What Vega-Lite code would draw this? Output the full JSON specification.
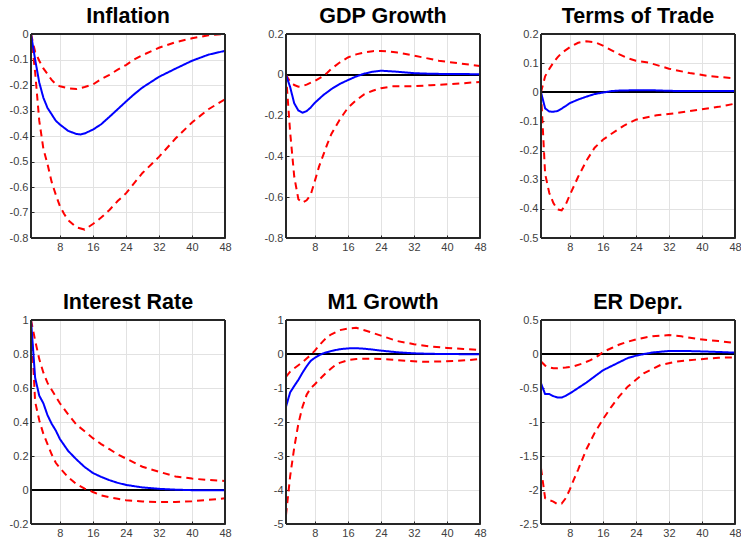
{
  "$schema": "https://vega.github.io/schema/vega-lite/v6.json",
  "padding": {"left": 8, "top": 5, "right": 2, "bottom": 2},
  "background": "white",
  "datasets": {
    "d": [
      {"p":"Inflation","s":"hi","h":1,"v":0},{"p":"Inflation","s":"hi","h":2,"v":-0.07},{"p":"Inflation","s":"hi","h":3,"v":-0.105},{"p":"Inflation","s":"hi","h":4,"v":-0.135},{"p":"Inflation","s":"hi","h":5,"v":-0.157},{"p":"Inflation","s":"hi","h":6,"v":-0.18},{"p":"Inflation","s":"hi","h":7,"v":-0.197},{"p":"Inflation","s":"hi","h":8,"v":-0.205},{"p":"Inflation","s":"hi","h":10,"v":-0.213},{"p":"Inflation","s":"hi","h":12,"v":-0.216},{"p":"Inflation","s":"hi","h":14,"v":-0.208},{"p":"Inflation","s":"hi","h":16,"v":-0.198},{"p":"Inflation","s":"hi","h":18,"v":-0.177},{"p":"Inflation","s":"hi","h":20,"v":-0.16},{"p":"Inflation","s":"hi","h":22,"v":-0.14},{"p":"Inflation","s":"hi","h":24,"v":-0.122},{"p":"Inflation","s":"hi","h":26,"v":-0.1},{"p":"Inflation","s":"hi","h":28,"v":-0.083},{"p":"Inflation","s":"hi","h":32,"v":-0.054},{"p":"Inflation","s":"hi","h":36,"v":-0.032},{"p":"Inflation","s":"hi","h":40,"v":-0.017},{"p":"Inflation","s":"hi","h":44,"v":-0.005},{"p":"Inflation","s":"hi","h":48,"v":0},
      {"p":"Inflation","s":"lo","h":1,"v":0},{"p":"Inflation","s":"lo","h":2,"v":-0.15},{"p":"Inflation","s":"lo","h":3,"v":-0.34},{"p":"Inflation","s":"lo","h":4,"v":-0.45},{"p":"Inflation","s":"lo","h":5,"v":-0.51},{"p":"Inflation","s":"lo","h":6,"v":-0.58},{"p":"Inflation","s":"lo","h":7,"v":-0.63},{"p":"Inflation","s":"lo","h":8,"v":-0.675},{"p":"Inflation","s":"lo","h":9,"v":-0.705},{"p":"Inflation","s":"lo","h":10,"v":-0.73},{"p":"Inflation","s":"lo","h":12,"v":-0.758},{"p":"Inflation","s":"lo","h":14,"v":-0.767},{"p":"Inflation","s":"lo","h":16,"v":-0.745},{"p":"Inflation","s":"lo","h":18,"v":-0.72},{"p":"Inflation","s":"lo","h":20,"v":-0.69},{"p":"Inflation","s":"lo","h":22,"v":-0.655},{"p":"Inflation","s":"lo","h":24,"v":-0.625},{"p":"Inflation","s":"lo","h":26,"v":-0.585},{"p":"Inflation","s":"lo","h":28,"v":-0.545},{"p":"Inflation","s":"lo","h":32,"v":-0.482},{"p":"Inflation","s":"lo","h":36,"v":-0.41},{"p":"Inflation","s":"lo","h":40,"v":-0.347},{"p":"Inflation","s":"lo","h":44,"v":-0.295},{"p":"Inflation","s":"lo","h":48,"v":-0.256},
      {"p":"Inflation","s":"med","h":1,"v":0},{"p":"Inflation","s":"med","h":2,"v":-0.1},{"p":"Inflation","s":"med","h":3,"v":-0.19},{"p":"Inflation","s":"med","h":4,"v":-0.25},{"p":"Inflation","s":"med","h":5,"v":-0.29},{"p":"Inflation","s":"med","h":6,"v":-0.315},{"p":"Inflation","s":"med","h":7,"v":-0.34},{"p":"Inflation","s":"med","h":8,"v":-0.355},{"p":"Inflation","s":"med","h":10,"v":-0.38},{"p":"Inflation","s":"med","h":12,"v":-0.392},{"p":"Inflation","s":"med","h":13,"v":-0.394},{"p":"Inflation","s":"med","h":14,"v":-0.39},{"p":"Inflation","s":"med","h":16,"v":-0.375},{"p":"Inflation","s":"med","h":18,"v":-0.354},{"p":"Inflation","s":"med","h":20,"v":-0.325},{"p":"Inflation","s":"med","h":22,"v":-0.295},{"p":"Inflation","s":"med","h":24,"v":-0.265},{"p":"Inflation","s":"med","h":26,"v":-0.236},{"p":"Inflation","s":"med","h":28,"v":-0.21},{"p":"Inflation","s":"med","h":32,"v":-0.168},{"p":"Inflation","s":"med","h":36,"v":-0.136},{"p":"Inflation","s":"med","h":40,"v":-0.105},{"p":"Inflation","s":"med","h":44,"v":-0.081},{"p":"Inflation","s":"med","h":48,"v":-0.066},

      {"p":"GDP Growth","s":"hi","h":1,"v":0},{"p":"GDP Growth","s":"hi","h":2,"v":-0.035},{"p":"GDP Growth","s":"hi","h":3,"v":-0.05},{"p":"GDP Growth","s":"hi","h":4,"v":-0.058},{"p":"GDP Growth","s":"hi","h":5,"v":-0.055},{"p":"GDP Growth","s":"hi","h":6,"v":-0.048},{"p":"GDP Growth","s":"hi","h":8,"v":-0.03},{"p":"GDP Growth","s":"hi","h":10,"v":-0.006},{"p":"GDP Growth","s":"hi","h":11,"v":0.01},{"p":"GDP Growth","s":"hi","h":12,"v":0.03},{"p":"GDP Growth","s":"hi","h":14,"v":0.06},{"p":"GDP Growth","s":"hi","h":16,"v":0.085},{"p":"GDP Growth","s":"hi","h":18,"v":0.1},{"p":"GDP Growth","s":"hi","h":20,"v":0.11},{"p":"GDP Growth","s":"hi","h":22,"v":0.116},{"p":"GDP Growth","s":"hi","h":24,"v":0.117},{"p":"GDP Growth","s":"hi","h":26,"v":0.114},{"p":"GDP Growth","s":"hi","h":28,"v":0.109},{"p":"GDP Growth","s":"hi","h":30,"v":0.102},{"p":"GDP Growth","s":"hi","h":34,"v":0.086},{"p":"GDP Growth","s":"hi","h":38,"v":0.069},{"p":"GDP Growth","s":"hi","h":43,"v":0.056},{"p":"GDP Growth","s":"hi","h":48,"v":0.043},
      {"p":"GDP Growth","s":"lo","h":1,"v":0},{"p":"GDP Growth","s":"lo","h":2,"v":-0.28},{"p":"GDP Growth","s":"lo","h":3,"v":-0.5},{"p":"GDP Growth","s":"lo","h":4,"v":-0.61},{"p":"GDP Growth","s":"lo","h":5,"v":-0.627},{"p":"GDP Growth","s":"lo","h":6,"v":-0.615},{"p":"GDP Growth","s":"lo","h":7,"v":-0.587},{"p":"GDP Growth","s":"lo","h":8,"v":-0.52},{"p":"GDP Growth","s":"lo","h":9,"v":-0.45},{"p":"GDP Growth","s":"lo","h":10,"v":-0.395},{"p":"GDP Growth","s":"lo","h":11,"v":-0.34},{"p":"GDP Growth","s":"lo","h":12,"v":-0.29},{"p":"GDP Growth","s":"lo","h":14,"v":-0.22},{"p":"GDP Growth","s":"lo","h":16,"v":-0.162},{"p":"GDP Growth","s":"lo","h":18,"v":-0.125},{"p":"GDP Growth","s":"lo","h":20,"v":-0.095},{"p":"GDP Growth","s":"lo","h":22,"v":-0.078},{"p":"GDP Growth","s":"lo","h":24,"v":-0.066},{"p":"GDP Growth","s":"lo","h":27,"v":-0.056},{"p":"GDP Growth","s":"lo","h":32,"v":-0.056},{"p":"GDP Growth","s":"lo","h":36,"v":-0.051},{"p":"GDP Growth","s":"lo","h":41,"v":-0.046},{"p":"GDP Growth","s":"lo","h":48,"v":-0.035},
      {"p":"GDP Growth","s":"med","h":1,"v":0},{"p":"GDP Growth","s":"med","h":2,"v":-0.06},{"p":"GDP Growth","s":"med","h":3,"v":-0.14},{"p":"GDP Growth","s":"med","h":4,"v":-0.175},{"p":"GDP Growth","s":"med","h":5,"v":-0.186},{"p":"GDP Growth","s":"med","h":6,"v":-0.178},{"p":"GDP Growth","s":"med","h":7,"v":-0.16},{"p":"GDP Growth","s":"med","h":8,"v":-0.137},{"p":"GDP Growth","s":"med","h":10,"v":-0.1},{"p":"GDP Growth","s":"med","h":12,"v":-0.07},{"p":"GDP Growth","s":"med","h":14,"v":-0.045},{"p":"GDP Growth","s":"med","h":16,"v":-0.026},{"p":"GDP Growth","s":"med","h":18,"v":-0.008},{"p":"GDP Growth","s":"med","h":20,"v":0.006},{"p":"GDP Growth","s":"med","h":22,"v":0.015},{"p":"GDP Growth","s":"med","h":24,"v":0.02},{"p":"GDP Growth","s":"med","h":28,"v":0.015},{"p":"GDP Growth","s":"med","h":32,"v":0.008},{"p":"GDP Growth","s":"med","h":36,"v":0.005},{"p":"GDP Growth","s":"med","h":40,"v":0.004},{"p":"GDP Growth","s":"med","h":48,"v":0.003},

      {"p":"Terms of Trade","s":"hi","h":1,"v":0},{"p":"Terms of Trade","s":"hi","h":2,"v":0.055},{"p":"Terms of Trade","s":"hi","h":3,"v":0.08},{"p":"Terms of Trade","s":"hi","h":4,"v":0.102},{"p":"Terms of Trade","s":"hi","h":5,"v":0.12},{"p":"Terms of Trade","s":"hi","h":6,"v":0.135},{"p":"Terms of Trade","s":"hi","h":8,"v":0.155},{"p":"Terms of Trade","s":"hi","h":10,"v":0.17},{"p":"Terms of Trade","s":"hi","h":12,"v":0.175},{"p":"Terms of Trade","s":"hi","h":14,"v":0.172},{"p":"Terms of Trade","s":"hi","h":16,"v":0.16},{"p":"Terms of Trade","s":"hi","h":18,"v":0.145},{"p":"Terms of Trade","s":"hi","h":20,"v":0.13},{"p":"Terms of Trade","s":"hi","h":22,"v":0.117},{"p":"Terms of Trade","s":"hi","h":24,"v":0.108},{"p":"Terms of Trade","s":"hi","h":27,"v":0.102},{"p":"Terms of Trade","s":"hi","h":32,"v":0.081},{"p":"Terms of Trade","s":"hi","h":37,"v":0.066},{"p":"Terms of Trade","s":"hi","h":42,"v":0.055},{"p":"Terms of Trade","s":"hi","h":48,"v":0.048},
      {"p":"Terms of Trade","s":"lo","h":1,"v":0},{"p":"Terms of Trade","s":"lo","h":2,"v":-0.28},{"p":"Terms of Trade","s":"lo","h":3,"v":-0.345},{"p":"Terms of Trade","s":"lo","h":4,"v":-0.38},{"p":"Terms of Trade","s":"lo","h":5,"v":-0.402},{"p":"Terms of Trade","s":"lo","h":6,"v":-0.405},{"p":"Terms of Trade","s":"lo","h":7,"v":-0.385},{"p":"Terms of Trade","s":"lo","h":8,"v":-0.352},{"p":"Terms of Trade","s":"lo","h":10,"v":-0.29},{"p":"Terms of Trade","s":"lo","h":12,"v":-0.235},{"p":"Terms of Trade","s":"lo","h":14,"v":-0.19},{"p":"Terms of Trade","s":"lo","h":16,"v":-0.163},{"p":"Terms of Trade","s":"lo","h":18,"v":-0.143},{"p":"Terms of Trade","s":"lo","h":21,"v":-0.115},{"p":"Terms of Trade","s":"lo","h":24,"v":-0.094},{"p":"Terms of Trade","s":"lo","h":29,"v":-0.079},{"p":"Terms of Trade","s":"lo","h":34,"v":-0.071},{"p":"Terms of Trade","s":"lo","h":39,"v":-0.06},{"p":"Terms of Trade","s":"lo","h":44,"v":-0.05},{"p":"Terms of Trade","s":"lo","h":48,"v":-0.039},
      {"p":"Terms of Trade","s":"med","h":1,"v":0},{"p":"Terms of Trade","s":"med","h":2,"v":-0.055},{"p":"Terms of Trade","s":"med","h":3,"v":-0.066},{"p":"Terms of Trade","s":"med","h":4,"v":-0.067},{"p":"Terms of Trade","s":"med","h":5,"v":-0.064},{"p":"Terms of Trade","s":"med","h":6,"v":-0.056},{"p":"Terms of Trade","s":"med","h":7,"v":-0.047},{"p":"Terms of Trade","s":"med","h":8,"v":-0.037},{"p":"Terms of Trade","s":"med","h":10,"v":-0.025},{"p":"Terms of Trade","s":"med","h":12,"v":-0.015},{"p":"Terms of Trade","s":"med","h":14,"v":-0.006},{"p":"Terms of Trade","s":"med","h":16,"v":-0.001},{"p":"Terms of Trade","s":"med","h":18,"v":0.004},{"p":"Terms of Trade","s":"med","h":20,"v":0.006},{"p":"Terms of Trade","s":"med","h":24,"v":0.007},{"p":"Terms of Trade","s":"med","h":28,"v":0.007},{"p":"Terms of Trade","s":"med","h":32,"v":0.005},{"p":"Terms of Trade","s":"med","h":38,"v":0.004},{"p":"Terms of Trade","s":"med","h":48,"v":0.004},

      {"p":"Interest Rate","s":"hi","h":1,"v":1.0},{"p":"Interest Rate","s":"hi","h":2,"v":0.88},{"p":"Interest Rate","s":"hi","h":3,"v":0.77},{"p":"Interest Rate","s":"hi","h":4,"v":0.69},{"p":"Interest Rate","s":"hi","h":5,"v":0.63},{"p":"Interest Rate","s":"hi","h":6,"v":0.59},{"p":"Interest Rate","s":"hi","h":8,"v":0.51},{"p":"Interest Rate","s":"hi","h":10,"v":0.445},{"p":"Interest Rate","s":"hi","h":12,"v":0.385},{"p":"Interest Rate","s":"hi","h":14,"v":0.345},{"p":"Interest Rate","s":"hi","h":16,"v":0.305},{"p":"Interest Rate","s":"hi","h":18,"v":0.27},{"p":"Interest Rate","s":"hi","h":20,"v":0.24},{"p":"Interest Rate","s":"hi","h":22,"v":0.21},{"p":"Interest Rate","s":"hi","h":24,"v":0.185},{"p":"Interest Rate","s":"hi","h":28,"v":0.137},{"p":"Interest Rate","s":"hi","h":32,"v":0.107},{"p":"Interest Rate","s":"hi","h":36,"v":0.08},{"p":"Interest Rate","s":"hi","h":40,"v":0.067},{"p":"Interest Rate","s":"hi","h":44,"v":0.059},{"p":"Interest Rate","s":"hi","h":48,"v":0.053},
      {"p":"Interest Rate","s":"lo","h":1,"v":1.0},{"p":"Interest Rate","s":"lo","h":2,"v":0.52},{"p":"Interest Rate","s":"lo","h":3,"v":0.41},{"p":"Interest Rate","s":"lo","h":4,"v":0.33},{"p":"Interest Rate","s":"lo","h":5,"v":0.27},{"p":"Interest Rate","s":"lo","h":6,"v":0.21},{"p":"Interest Rate","s":"lo","h":7,"v":0.16},{"p":"Interest Rate","s":"lo","h":8,"v":0.13},{"p":"Interest Rate","s":"lo","h":10,"v":0.075},{"p":"Interest Rate","s":"lo","h":12,"v":0.035},{"p":"Interest Rate","s":"lo","h":14,"v":0.008},{"p":"Interest Rate","s":"lo","h":15,"v":0},{"p":"Interest Rate","s":"lo","h":16,"v":-0.012},{"p":"Interest Rate","s":"lo","h":18,"v":-0.032},{"p":"Interest Rate","s":"lo","h":20,"v":-0.043},{"p":"Interest Rate","s":"lo","h":22,"v":-0.052},{"p":"Interest Rate","s":"lo","h":24,"v":-0.06},{"p":"Interest Rate","s":"lo","h":28,"v":-0.068},{"p":"Interest Rate","s":"lo","h":32,"v":-0.071},{"p":"Interest Rate","s":"lo","h":36,"v":-0.07},{"p":"Interest Rate","s":"lo","h":40,"v":-0.066},{"p":"Interest Rate","s":"lo","h":44,"v":-0.058},{"p":"Interest Rate","s":"lo","h":48,"v":-0.049},
      {"p":"Interest Rate","s":"med","h":1,"v":1.0},{"p":"Interest Rate","s":"med","h":2,"v":0.66},{"p":"Interest Rate","s":"med","h":3,"v":0.555},{"p":"Interest Rate","s":"med","h":4,"v":0.51},{"p":"Interest Rate","s":"med","h":5,"v":0.44},{"p":"Interest Rate","s":"med","h":6,"v":0.39},{"p":"Interest Rate","s":"med","h":7,"v":0.35},{"p":"Interest Rate","s":"med","h":8,"v":0.3},{"p":"Interest Rate","s":"med","h":10,"v":0.23},{"p":"Interest Rate","s":"med","h":12,"v":0.18},{"p":"Interest Rate","s":"med","h":14,"v":0.135},{"p":"Interest Rate","s":"med","h":16,"v":0.1},{"p":"Interest Rate","s":"med","h":18,"v":0.077},{"p":"Interest Rate","s":"med","h":20,"v":0.058},{"p":"Interest Rate","s":"med","h":22,"v":0.042},{"p":"Interest Rate","s":"med","h":24,"v":0.03},{"p":"Interest Rate","s":"med","h":28,"v":0.015},{"p":"Interest Rate","s":"med","h":32,"v":0.007},{"p":"Interest Rate","s":"med","h":36,"v":0.002},{"p":"Interest Rate","s":"med","h":40,"v":-0.001},{"p":"Interest Rate","s":"med","h":48,"v":-0.002},

      {"p":"M1 Growth","s":"hi","h":1,"v":-0.67},{"p":"M1 Growth","s":"hi","h":2,"v":-0.52},{"p":"M1 Growth","s":"hi","h":3,"v":-0.42},{"p":"M1 Growth","s":"hi","h":4,"v":-0.33},{"p":"M1 Growth","s":"hi","h":5,"v":-0.24},{"p":"M1 Growth","s":"hi","h":6,"v":-0.13},{"p":"M1 Growth","s":"hi","h":7,"v":-0.03},{"p":"M1 Growth","s":"hi","h":8,"v":0.1},{"p":"M1 Growth","s":"hi","h":9,"v":0.25},{"p":"M1 Growth","s":"hi","h":10,"v":0.38},{"p":"M1 Growth","s":"hi","h":11,"v":0.5},{"p":"M1 Growth","s":"hi","h":12,"v":0.58},{"p":"M1 Growth","s":"hi","h":14,"v":0.7},{"p":"M1 Growth","s":"hi","h":16,"v":0.75},{"p":"M1 Growth","s":"hi","h":18,"v":0.77},{"p":"M1 Growth","s":"hi","h":20,"v":0.7},{"p":"M1 Growth","s":"hi","h":22,"v":0.62},{"p":"M1 Growth","s":"hi","h":24,"v":0.54},{"p":"M1 Growth","s":"hi","h":28,"v":0.38},{"p":"M1 Growth","s":"hi","h":32,"v":0.29},{"p":"M1 Growth","s":"hi","h":36,"v":0.22},{"p":"M1 Growth","s":"hi","h":40,"v":0.18},{"p":"M1 Growth","s":"hi","h":44,"v":0.15},{"p":"M1 Growth","s":"hi","h":48,"v":0.12},
      {"p":"M1 Growth","s":"lo","h":1,"v":-4.74},{"p":"M1 Growth","s":"lo","h":2,"v":-3.6},{"p":"M1 Growth","s":"lo","h":3,"v":-2.75},{"p":"M1 Growth","s":"lo","h":4,"v":-2.05},{"p":"M1 Growth","s":"lo","h":5,"v":-1.55},{"p":"M1 Growth","s":"lo","h":6,"v":-1.2},{"p":"M1 Growth","s":"lo","h":7,"v":-1.0},{"p":"M1 Growth","s":"lo","h":8,"v":-0.89},{"p":"M1 Growth","s":"lo","h":9,"v":-0.76},{"p":"M1 Growth","s":"lo","h":10,"v":-0.64},{"p":"M1 Growth","s":"lo","h":11,"v":-0.52},{"p":"M1 Growth","s":"lo","h":12,"v":-0.42},{"p":"M1 Growth","s":"lo","h":13,"v":-0.32},{"p":"M1 Growth","s":"lo","h":14,"v":-0.26},{"p":"M1 Growth","s":"lo","h":16,"v":-0.18},{"p":"M1 Growth","s":"lo","h":18,"v":-0.15},{"p":"M1 Growth","s":"lo","h":20,"v":-0.14},{"p":"M1 Growth","s":"lo","h":22,"v":-0.14},{"p":"M1 Growth","s":"lo","h":26,"v":-0.16},{"p":"M1 Growth","s":"lo","h":30,"v":-0.2},{"p":"M1 Growth","s":"lo","h":34,"v":-0.23},{"p":"M1 Growth","s":"lo","h":38,"v":-0.22},{"p":"M1 Growth","s":"lo","h":42,"v":-0.2},{"p":"M1 Growth","s":"lo","h":45,"v":-0.18},{"p":"M1 Growth","s":"lo","h":48,"v":-0.15},
      {"p":"M1 Growth","s":"med","h":1,"v":-1.55},{"p":"M1 Growth","s":"med","h":2,"v":-1.13},{"p":"M1 Growth","s":"med","h":3,"v":-0.94},{"p":"M1 Growth","s":"med","h":4,"v":-0.76},{"p":"M1 Growth","s":"med","h":5,"v":-0.55},{"p":"M1 Growth","s":"med","h":6,"v":-0.36},{"p":"M1 Growth","s":"med","h":7,"v":-0.2},{"p":"M1 Growth","s":"med","h":8,"v":-0.11},{"p":"M1 Growth","s":"med","h":9,"v":-0.04},{"p":"M1 Growth","s":"med","h":10,"v":0.02},{"p":"M1 Growth","s":"med","h":12,"v":0.09},{"p":"M1 Growth","s":"med","h":14,"v":0.14},{"p":"M1 Growth","s":"med","h":16,"v":0.165},{"p":"M1 Growth","s":"med","h":18,"v":0.17},{"p":"M1 Growth","s":"med","h":20,"v":0.155},{"p":"M1 Growth","s":"med","h":22,"v":0.13},{"p":"M1 Growth","s":"med","h":24,"v":0.1},{"p":"M1 Growth","s":"med","h":28,"v":0.05},{"p":"M1 Growth","s":"med","h":32,"v":0.02},{"p":"M1 Growth","s":"med","h":36,"v":0.005},{"p":"M1 Growth","s":"med","h":40,"v":0},{"p":"M1 Growth","s":"med","h":48,"v":-0.01},

      {"p":"ER Depr.","s":"hi","h":1,"v":-0.11},{"p":"ER Depr.","s":"hi","h":2,"v":-0.17},{"p":"ER Depr.","s":"hi","h":3,"v":-0.195},{"p":"ER Depr.","s":"hi","h":4,"v":-0.21},{"p":"ER Depr.","s":"hi","h":5,"v":-0.21},{"p":"ER Depr.","s":"hi","h":6,"v":-0.205},{"p":"ER Depr.","s":"hi","h":7,"v":-0.2},{"p":"ER Depr.","s":"hi","h":9,"v":-0.18},{"p":"ER Depr.","s":"hi","h":11,"v":-0.14},{"p":"ER Depr.","s":"hi","h":13,"v":-0.09},{"p":"ER Depr.","s":"hi","h":15,"v":-0.02},{"p":"ER Depr.","s":"hi","h":16,"v":0.03},{"p":"ER Depr.","s":"hi","h":18,"v":0.085},{"p":"ER Depr.","s":"hi","h":20,"v":0.14},{"p":"ER Depr.","s":"hi","h":22,"v":0.18},{"p":"ER Depr.","s":"hi","h":24,"v":0.215},{"p":"ER Depr.","s":"hi","h":26,"v":0.24},{"p":"ER Depr.","s":"hi","h":28,"v":0.262},{"p":"ER Depr.","s":"hi","h":32,"v":0.278},{"p":"ER Depr.","s":"hi","h":35,"v":0.26},{"p":"ER Depr.","s":"hi","h":39,"v":0.22},{"p":"ER Depr.","s":"hi","h":44,"v":0.19},{"p":"ER Depr.","s":"hi","h":48,"v":0.16},
      {"p":"ER Depr.","s":"lo","h":1,"v":-1.68},{"p":"ER Depr.","s":"lo","h":2,"v":-2.12},{"p":"ER Depr.","s":"lo","h":3,"v":-2.15},{"p":"ER Depr.","s":"lo","h":4,"v":-2.17},{"p":"ER Depr.","s":"lo","h":5,"v":-2.21},{"p":"ER Depr.","s":"lo","h":6,"v":-2.2},{"p":"ER Depr.","s":"lo","h":7,"v":-2.12},{"p":"ER Depr.","s":"lo","h":8,"v":-1.99},{"p":"ER Depr.","s":"lo","h":9,"v":-1.84},{"p":"ER Depr.","s":"lo","h":10,"v":-1.7},{"p":"ER Depr.","s":"lo","h":12,"v":-1.4},{"p":"ER Depr.","s":"lo","h":14,"v":-1.16},{"p":"ER Depr.","s":"lo","h":16,"v":-0.96},{"p":"ER Depr.","s":"lo","h":18,"v":-0.78},{"p":"ER Depr.","s":"lo","h":20,"v":-0.62},{"p":"ER Depr.","s":"lo","h":22,"v":-0.48},{"p":"ER Depr.","s":"lo","h":24,"v":-0.38},{"p":"ER Depr.","s":"lo","h":26,"v":-0.28},{"p":"ER Depr.","s":"lo","h":28,"v":-0.22},{"p":"ER Depr.","s":"lo","h":30,"v":-0.16},{"p":"ER Depr.","s":"lo","h":34,"v":-0.11},{"p":"ER Depr.","s":"lo","h":39,"v":-0.08},{"p":"ER Depr.","s":"lo","h":44,"v":-0.055},{"p":"ER Depr.","s":"lo","h":48,"v":-0.05},
      {"p":"ER Depr.","s":"med","h":1,"v":-0.43},{"p":"ER Depr.","s":"med","h":2,"v":-0.59},{"p":"ER Depr.","s":"med","h":3,"v":-0.59},{"p":"ER Depr.","s":"med","h":4,"v":-0.62},{"p":"ER Depr.","s":"med","h":5,"v":-0.64},{"p":"ER Depr.","s":"med","h":6,"v":-0.64},{"p":"ER Depr.","s":"med","h":7,"v":-0.615},{"p":"ER Depr.","s":"med","h":8,"v":-0.58},{"p":"ER Depr.","s":"med","h":10,"v":-0.5},{"p":"ER Depr.","s":"med","h":12,"v":-0.42},{"p":"ER Depr.","s":"med","h":14,"v":-0.33},{"p":"ER Depr.","s":"med","h":16,"v":-0.24},{"p":"ER Depr.","s":"med","h":18,"v":-0.18},{"p":"ER Depr.","s":"med","h":20,"v":-0.12},{"p":"ER Depr.","s":"med","h":22,"v":-0.06},{"p":"ER Depr.","s":"med","h":24,"v":-0.025},{"p":"ER Depr.","s":"med","h":26,"v":0},{"p":"ER Depr.","s":"med","h":28,"v":0.022},{"p":"ER Depr.","s":"med","h":32,"v":0.045},{"p":"ER Depr.","s":"med","h":36,"v":0.045},{"p":"ER Depr.","s":"med","h":40,"v":0.038},{"p":"ER Depr.","s":"med","h":44,"v":0.03},{"p":"ER Depr.","s":"med","h":48,"v":0.02}
    ]
  },
  "data": {"name": "d"},
  "columns": 3,
  "bounds": "flush",
  "spacing": {"row": 82, "column": 61},
  "resolve": {"scale": {"x": "independent", "y": "independent"}},
  "concat": [
    {
      "title": "Inflation", "width": 194, "height": 204,
      "transform": [{"filter": "datum.p == 'Inflation'"}],
      "layer": [
        {"mark": {"type": "rule", "color": "black", "strokeWidth": 1},
         "encoding": {"y": {"datum": 0, "type": "quantitative", "scale": {"domain": [-0.8, 0], "nice": false, "zero": false}, "axis": {"values": [-0.8, -0.7, -0.6, -0.5, -0.4, -0.3, -0.2, -0.1, 0]}}}},
        {"mark": {"type": "line", "strokeWidth": 2, "clip": true},
         "encoding": {
           "x": {"field": "h", "type": "quantitative", "scale": {"domain": [1, 48], "nice": false, "zero": false}, "axis": {"values": [8, 16, 24, 32, 40, 48]}},
           "y": {"field": "v", "type": "quantitative", "scale": {"domain": [-0.8, 0], "nice": false, "zero": false}, "axis": {"values": [-0.8, -0.7, -0.6, -0.5, -0.4, -0.3, -0.2, -0.1, 0]}},
           "color": {"field": "s", "type": "nominal", "scale": {"domain": ["hi", "lo", "med"], "range": ["#ff0000", "#ff0000", "#0000ff"]}, "legend": null},
           "strokeDash": {"field": "s", "type": "nominal", "scale": {"domain": ["hi", "lo", "med"], "range": [[7, 5], [7, 5], [1, 0]]}, "legend": null}
         }},
        {"mark": {"type": "rect", "filled": false, "stroke": "#262626", "strokeWidth": 1},
         "encoding": {
           "x": {"datum": 1, "type": "quantitative", "scale": {"domain": [1, 48], "nice": false, "zero": false}, "axis": {"values": [8, 16, 24, 32, 40, 48]}}, "x2": {"datum": 48},
           "y": {"datum": -0.8, "type": "quantitative", "scale": {"domain": [-0.8, 0], "nice": false, "zero": false}, "axis": {"values": [-0.8, -0.7, -0.6, -0.5, -0.4, -0.3, -0.2, -0.1, 0]}}, "y2": {"datum": 0}
         }}
      ]
    },
    {
      "title": "GDP Growth", "width": 194, "height": 204,
      "transform": [{"filter": "datum.p == 'GDP Growth'"}],
      "layer": [
        {"mark": {"type": "rule", "color": "black", "strokeWidth": 1},
         "encoding": {"y": {"datum": 0, "type": "quantitative", "scale": {"domain": [-0.8, 0.2], "nice": false, "zero": false}, "axis": {"values": [-0.8, -0.6, -0.4, -0.2, 0, 0.2]}}}},
        {"mark": {"type": "line", "strokeWidth": 2, "clip": true},
         "encoding": {
           "x": {"field": "h", "type": "quantitative", "scale": {"domain": [1, 48], "nice": false, "zero": false}, "axis": {"values": [8, 16, 24, 32, 40, 48]}},
           "y": {"field": "v", "type": "quantitative", "scale": {"domain": [-0.8, 0.2], "nice": false, "zero": false}, "axis": {"values": [-0.8, -0.6, -0.4, -0.2, 0, 0.2]}},
           "color": {"field": "s", "type": "nominal", "scale": {"domain": ["hi", "lo", "med"], "range": ["#ff0000", "#ff0000", "#0000ff"]}, "legend": null},
           "strokeDash": {"field": "s", "type": "nominal", "scale": {"domain": ["hi", "lo", "med"], "range": [[7, 5], [7, 5], [1, 0]]}, "legend": null}
         }},
        {"mark": {"type": "rect", "filled": false, "stroke": "#262626", "strokeWidth": 1},
         "encoding": {
           "x": {"datum": 1, "type": "quantitative", "scale": {"domain": [1, 48], "nice": false, "zero": false}, "axis": {"values": [8, 16, 24, 32, 40, 48]}}, "x2": {"datum": 48},
           "y": {"datum": -0.8, "type": "quantitative", "scale": {"domain": [-0.8, 0.2], "nice": false, "zero": false}, "axis": {"values": [-0.8, -0.6, -0.4, -0.2, 0, 0.2]}}, "y2": {"datum": 0.2}
         }}
      ]
    },
    {
      "title": "Terms of Trade", "width": 194, "height": 204,
      "transform": [{"filter": "datum.p == 'Terms of Trade'"}],
      "layer": [
        {"mark": {"type": "rule", "color": "black", "strokeWidth": 1},
         "encoding": {"y": {"datum": 0, "type": "quantitative", "scale": {"domain": [-0.5, 0.2], "nice": false, "zero": false}, "axis": {"values": [-0.5, -0.4, -0.3, -0.2, -0.1, 0, 0.1, 0.2]}}}},
        {"mark": {"type": "line", "strokeWidth": 2, "clip": true},
         "encoding": {
           "x": {"field": "h", "type": "quantitative", "scale": {"domain": [1, 48], "nice": false, "zero": false}, "axis": {"values": [8, 16, 24, 32, 40, 48]}},
           "y": {"field": "v", "type": "quantitative", "scale": {"domain": [-0.5, 0.2], "nice": false, "zero": false}, "axis": {"values": [-0.5, -0.4, -0.3, -0.2, -0.1, 0, 0.1, 0.2]}},
           "color": {"field": "s", "type": "nominal", "scale": {"domain": ["hi", "lo", "med"], "range": ["#ff0000", "#ff0000", "#0000ff"]}, "legend": null},
           "strokeDash": {"field": "s", "type": "nominal", "scale": {"domain": ["hi", "lo", "med"], "range": [[7, 5], [7, 5], [1, 0]]}, "legend": null}
         }},
        {"mark": {"type": "rect", "filled": false, "stroke": "#262626", "strokeWidth": 1},
         "encoding": {
           "x": {"datum": 1, "type": "quantitative", "scale": {"domain": [1, 48], "nice": false, "zero": false}, "axis": {"values": [8, 16, 24, 32, 40, 48]}}, "x2": {"datum": 48},
           "y": {"datum": -0.5, "type": "quantitative", "scale": {"domain": [-0.5, 0.2], "nice": false, "zero": false}, "axis": {"values": [-0.5, -0.4, -0.3, -0.2, -0.1, 0, 0.1, 0.2]}}, "y2": {"datum": 0.2}
         }}
      ]
    },
    {
      "title": "Interest Rate", "width": 194, "height": 204,
      "transform": [{"filter": "datum.p == 'Interest Rate'"}],
      "layer": [
        {"mark": {"type": "rule", "color": "black", "strokeWidth": 1},
         "encoding": {"y": {"datum": 0, "type": "quantitative", "scale": {"domain": [-0.2, 1], "nice": false, "zero": false}, "axis": {"values": [-0.2, 0, 0.2, 0.4, 0.6, 0.8, 1]}}}},
        {"mark": {"type": "line", "strokeWidth": 2, "clip": true},
         "encoding": {
           "x": {"field": "h", "type": "quantitative", "scale": {"domain": [1, 48], "nice": false, "zero": false}, "axis": {"values": [8, 16, 24, 32, 40, 48]}},
           "y": {"field": "v", "type": "quantitative", "scale": {"domain": [-0.2, 1], "nice": false, "zero": false}, "axis": {"values": [-0.2, 0, 0.2, 0.4, 0.6, 0.8, 1]}},
           "color": {"field": "s", "type": "nominal", "scale": {"domain": ["hi", "lo", "med"], "range": ["#ff0000", "#ff0000", "#0000ff"]}, "legend": null},
           "strokeDash": {"field": "s", "type": "nominal", "scale": {"domain": ["hi", "lo", "med"], "range": [[7, 5], [7, 5], [1, 0]]}, "legend": null}
         }},
        {"mark": {"type": "rect", "filled": false, "stroke": "#262626", "strokeWidth": 1},
         "encoding": {
           "x": {"datum": 1, "type": "quantitative", "scale": {"domain": [1, 48], "nice": false, "zero": false}, "axis": {"values": [8, 16, 24, 32, 40, 48]}}, "x2": {"datum": 48},
           "y": {"datum": -0.2, "type": "quantitative", "scale": {"domain": [-0.2, 1], "nice": false, "zero": false}, "axis": {"values": [-0.2, 0, 0.2, 0.4, 0.6, 0.8, 1]}}, "y2": {"datum": 1}
         }}
      ]
    },
    {
      "title": "M1 Growth", "width": 194, "height": 204,
      "transform": [{"filter": "datum.p == 'M1 Growth'"}],
      "layer": [
        {"mark": {"type": "rule", "color": "black", "strokeWidth": 1},
         "encoding": {"y": {"datum": 0, "type": "quantitative", "scale": {"domain": [-5, 1], "nice": false, "zero": false}, "axis": {"values": [-5, -4, -3, -2, -1, 0, 1]}}}},
        {"mark": {"type": "line", "strokeWidth": 2, "clip": true},
         "encoding": {
           "x": {"field": "h", "type": "quantitative", "scale": {"domain": [1, 48], "nice": false, "zero": false}, "axis": {"values": [8, 16, 24, 32, 40, 48]}},
           "y": {"field": "v", "type": "quantitative", "scale": {"domain": [-5, 1], "nice": false, "zero": false}, "axis": {"values": [-5, -4, -3, -2, -1, 0, 1]}},
           "color": {"field": "s", "type": "nominal", "scale": {"domain": ["hi", "lo", "med"], "range": ["#ff0000", "#ff0000", "#0000ff"]}, "legend": null},
           "strokeDash": {"field": "s", "type": "nominal", "scale": {"domain": ["hi", "lo", "med"], "range": [[7, 5], [7, 5], [1, 0]]}, "legend": null}
         }},
        {"mark": {"type": "rect", "filled": false, "stroke": "#262626", "strokeWidth": 1},
         "encoding": {
           "x": {"datum": 1, "type": "quantitative", "scale": {"domain": [1, 48], "nice": false, "zero": false}, "axis": {"values": [8, 16, 24, 32, 40, 48]}}, "x2": {"datum": 48},
           "y": {"datum": -5, "type": "quantitative", "scale": {"domain": [-5, 1], "nice": false, "zero": false}, "axis": {"values": [-5, -4, -3, -2, -1, 0, 1]}}, "y2": {"datum": 1}
         }}
      ]
    },
    {
      "title": "ER Depr.", "width": 194, "height": 204,
      "transform": [{"filter": "datum.p == 'ER Depr.'"}],
      "layer": [
        {"mark": {"type": "rule", "color": "black", "strokeWidth": 1},
         "encoding": {"y": {"datum": 0, "type": "quantitative", "scale": {"domain": [-2.5, 0.5], "nice": false, "zero": false}, "axis": {"values": [-2.5, -2, -1.5, -1, -0.5, 0, 0.5]}}}},
        {"mark": {"type": "line", "strokeWidth": 2, "clip": true},
         "encoding": {
           "x": {"field": "h", "type": "quantitative", "scale": {"domain": [1, 48], "nice": false, "zero": false}, "axis": {"values": [8, 16, 24, 32, 40, 48]}},
           "y": {"field": "v", "type": "quantitative", "scale": {"domain": [-2.5, 0.5], "nice": false, "zero": false}, "axis": {"values": [-2.5, -2, -1.5, -1, -0.5, 0, 0.5]}},
           "color": {"field": "s", "type": "nominal", "scale": {"domain": ["hi", "lo", "med"], "range": ["#ff0000", "#ff0000", "#0000ff"]}, "legend": null},
           "strokeDash": {"field": "s", "type": "nominal", "scale": {"domain": ["hi", "lo", "med"], "range": [[7, 5], [7, 5], [1, 0]]}, "legend": null}
         }},
        {"mark": {"type": "rect", "filled": false, "stroke": "#262626", "strokeWidth": 1},
         "encoding": {
           "x": {"datum": 1, "type": "quantitative", "scale": {"domain": [1, 48], "nice": false, "zero": false}, "axis": {"values": [8, 16, 24, 32, 40, 48]}}, "x2": {"datum": 48},
           "y": {"datum": -2.5, "type": "quantitative", "scale": {"domain": [-2.5, 0.5], "nice": false, "zero": false}, "axis": {"values": [-2.5, -2, -1.5, -1, -0.5, 0, 0.5]}}, "y2": {"datum": 0.5}
         }}
      ]
    }
  ],
  "config": {
    "view": {"stroke": "#262626", "strokeWidth": 1},
    "axis": {"title": null, "grid": true, "gridColor": "#e2e2e2", "gridWidth": 1, "domain": true, "domainColor": "#262626", "domainWidth": 1, "ticks": true, "tickSize": -3, "tickColor": "#262626", "tickWidth": 1, "labelFont": "Liberation Sans", "labelFontSize": 11, "labelColor": "#404040", "labelPadding": 6, "labelExpr": "'' + datum.value", "labelFlush": false, "labelOverlap": false},
    "axisX": {"labelPadding": 6},
    "title": {"font": "Liberation Sans", "fontSize": 21.5, "fontWeight": "bold", "color": "#000000", "offset": 1, "baseline": "bottom", "anchor": "middle"}
  }
}
